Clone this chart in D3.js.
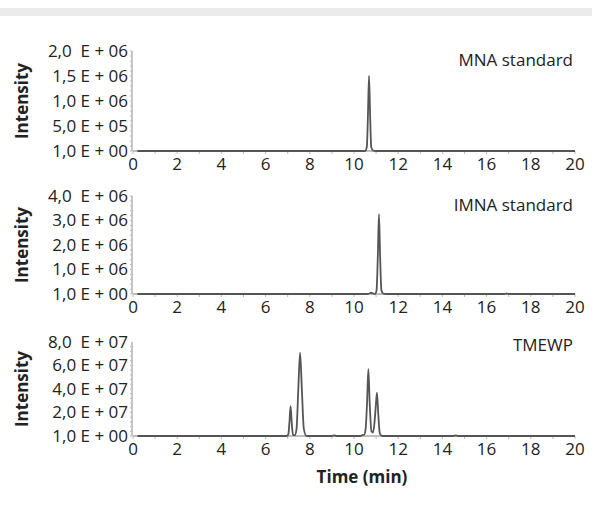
<!DOCTYPE html>
<html><head><meta charset="utf-8">
<script src="https://cdn.jsdelivr.net/npm/d3@7"></script>
<style>
body{margin:0;background:#fff;}
svg{display:block;font-family:"Open Sans","Noto Sans",sans-serif;}
</style></head>
<body><svg id="c" width="592" height="505"></svg>
<script>
// ---- data ----
const xTicks = [0,2,4,6,8,10,12,14,16,18,20];
const panelTitles = ["MNA standard","IMNA standard","TMEWP"];
const yMaxes = [2e6, 4e6, 8e7];

const yTickValsMNA = [0, 5e5, 1e6, 1.5e6, 2e6];
const yTickLabelsMNA = ["1,0 E+00","5,0 E+05","1,0 E+06","1,5 E+06","2,0  E+06"];
const yTickValsIMNA = [0, 1e6, 2e6, 3e6, 4e6];
const yTickLabelsIMNA = ["1,0 E+00","1,0 E+06","2,0 E+06","3,0 E+06","4,0  E+06"];
const yTickValsTMEWP = [0, 2e7, 4e7, 6e7, 8e7];
const yTickLabelsTMEWP = ["1,0 E+00","2,0 E+07","4,0 E+07","6,0 E+07","8,0  E+07"];

const timeMNA = [0.2, 10.50, 10.58, 10.63, 10.68, 10.73, 10.78, 10.86, 11.0, 20];
const intMNA  = [0, 0, 0.08e6, 0.7e6, 1.5e6, 0.7e6, 0.08e6, 0.01e6, 0, 0];

const timeIMNA = [0.2, 10.6, 10.72, 10.78, 10.84, 10.95, 11.02, 11.08, 11.13, 11.18, 11.24, 11.32, 11.45, 16.8, 16.9, 17.0, 20];
const intIMNA  = [0, 0, 0.03e6, 0.06e6, 0.03e6, 0, 0.15e6, 1.6e6, 3.26e6, 1.6e6, 0.15e6, 0.02e6, 0, 0, 0.02e6, 0, 0];

const timeTMEWP = [0.2, 6.95, 7.03, 7.08, 7.13, 7.18, 7.24, 7.32, 7.40, 7.48, 7.56, 7.64, 7.73, 7.85,
                   9.0, 9.1, 9.2,
                   10.3, 10.4, 10.45, 10.52, 10.59, 10.65, 10.71, 10.79, 10.86, 10.92, 10.98, 11.04, 11.10, 11.17, 11.28,
                   14.5, 14.6, 14.7, 20];
const intTMEWP  = [0, 0, 0.15e7, 1.2e7, 2.55e7, 1.2e7, 0.1e7, 0.05e7, 0.6e7, 4.0e7, 7.09e7, 4.0e7, 0.6e7, 0,
                   0, 0.05e7, 0,
                   0, 0.1e7, 0.1e7, 0.5e7, 2.8e7, 5.7e7, 2.8e7, 0.4e7, 0.3e7, 1.0e7, 2.4e7, 3.68e7, 1.8e7, 0.2e7, 0,
                   0, 0.05e7, 0, 0];

// ---- layout ----
const svg = d3.select("#c");
svg.append("rect").attr("x",0).attr("y",8).attr("width",592).attr("height",8).attr("fill","#ebebeb");

const x = d3.scaleLinear().domain([0,20]).range([133,575]);
const panels = [
  {top:51, base:151, tv:yTickValsMNA, tl:yTickLabelsMNA, t:timeMNA, v:intMNA, titleY:66},
  {top:196, base:294, tv:yTickValsIMNA, tl:yTickLabelsIMNA, t:timeIMNA, v:intIMNA, titleY:211},
  {top:342, base:436, tv:yTickValsTMEWP, tl:yTickLabelsTMEWP, t:timeTMEWP, v:intTMEWP, titleY:351}
];

panels.forEach((p,i)=>{
  const y = d3.scaleLinear().domain([0,yMaxes[i]]).range([p.base,p.top]);
  const g = svg.append("g");
  g.append("line").attr("x1",x(0)-1).attr("x2",x(0)-1).attr("y1",p.top).attr("y2",p.base)
    .attr("stroke","#b5b5b5").attr("stroke-width",1.5);
  const minor = d3.range(0, yMaxes[i]+1e-9, yMaxes[i]/20);
  g.selectAll(".ym").data(minor).join("line")
    .attr("x1",x(0)-3).attr("x2",x(0)-1).attr("y1",d=>y(d)).attr("y2",d=>y(d))
    .attr("stroke","#bbb").attr("stroke-width",1);
  g.append("line").attr("x1",x(0)).attr("x2",x(20)).attr("y1",p.base).attr("y2",p.base)
    .attr("stroke","#aaa").attr("stroke-width",1.5);
  g.selectAll(".xm").data(d3.range(0,21,1)).join("line")
    .attr("x1",d=>x(d)).attr("x2",d=>x(d)).attr("y1",p.base).attr("y2",p.base+3)
    .attr("stroke","#bbb").attr("stroke-width",1);
  g.selectAll(".yl").data(p.tv).join("text")
    .attr("x",128).attr("y",(d)=>y(d)).attr("dy","0.35em")
    .attr("text-anchor","end").attr("font-size",17).attr("fill","#222")
    .attr("xml:space","preserve").style("white-space","pre")
    .text((d,j)=>p.tl[j].replace("+"," + "));
  g.selectAll(".xl").data(xTicks).join("text")
    .attr("x",d=>x(d)).attr("y",p.base+19)
    .attr("text-anchor","middle").attr("font-size",17).attr("fill","#222")
    .text(d=>d);
  const pts = p.t.map((t,j)=>[t,p.v[j]]);
  g.append("path").datum(pts)
    .attr("d", d3.line().x(d=>x(d[0])).y(d=>y(d[1])).curve(d3.curveMonotoneX))
    .attr("fill","none").attr("stroke","#555").attr("stroke-width",1.8).attr("stroke-linejoin","round");
  g.append("text").attr("x",573).attr("y",p.titleY).attr("text-anchor","end")
    .attr("font-size",17).attr("fill","#222").text(panelTitles[i]);
  g.append("text").attr("transform",`translate(28,${(p.top+p.base)/2}) rotate(-90)`)
    .attr("text-anchor","middle").attr("font-size",17).attr("font-weight","bold").attr("fill","#222")
    .text("Intensity");
});

svg.append("text").attr("x",362).attr("y",483).attr("text-anchor","middle")
  .attr("font-size",17).attr("font-weight","bold").attr("fill","#222").text("Time (min)");
</script></body></html>
